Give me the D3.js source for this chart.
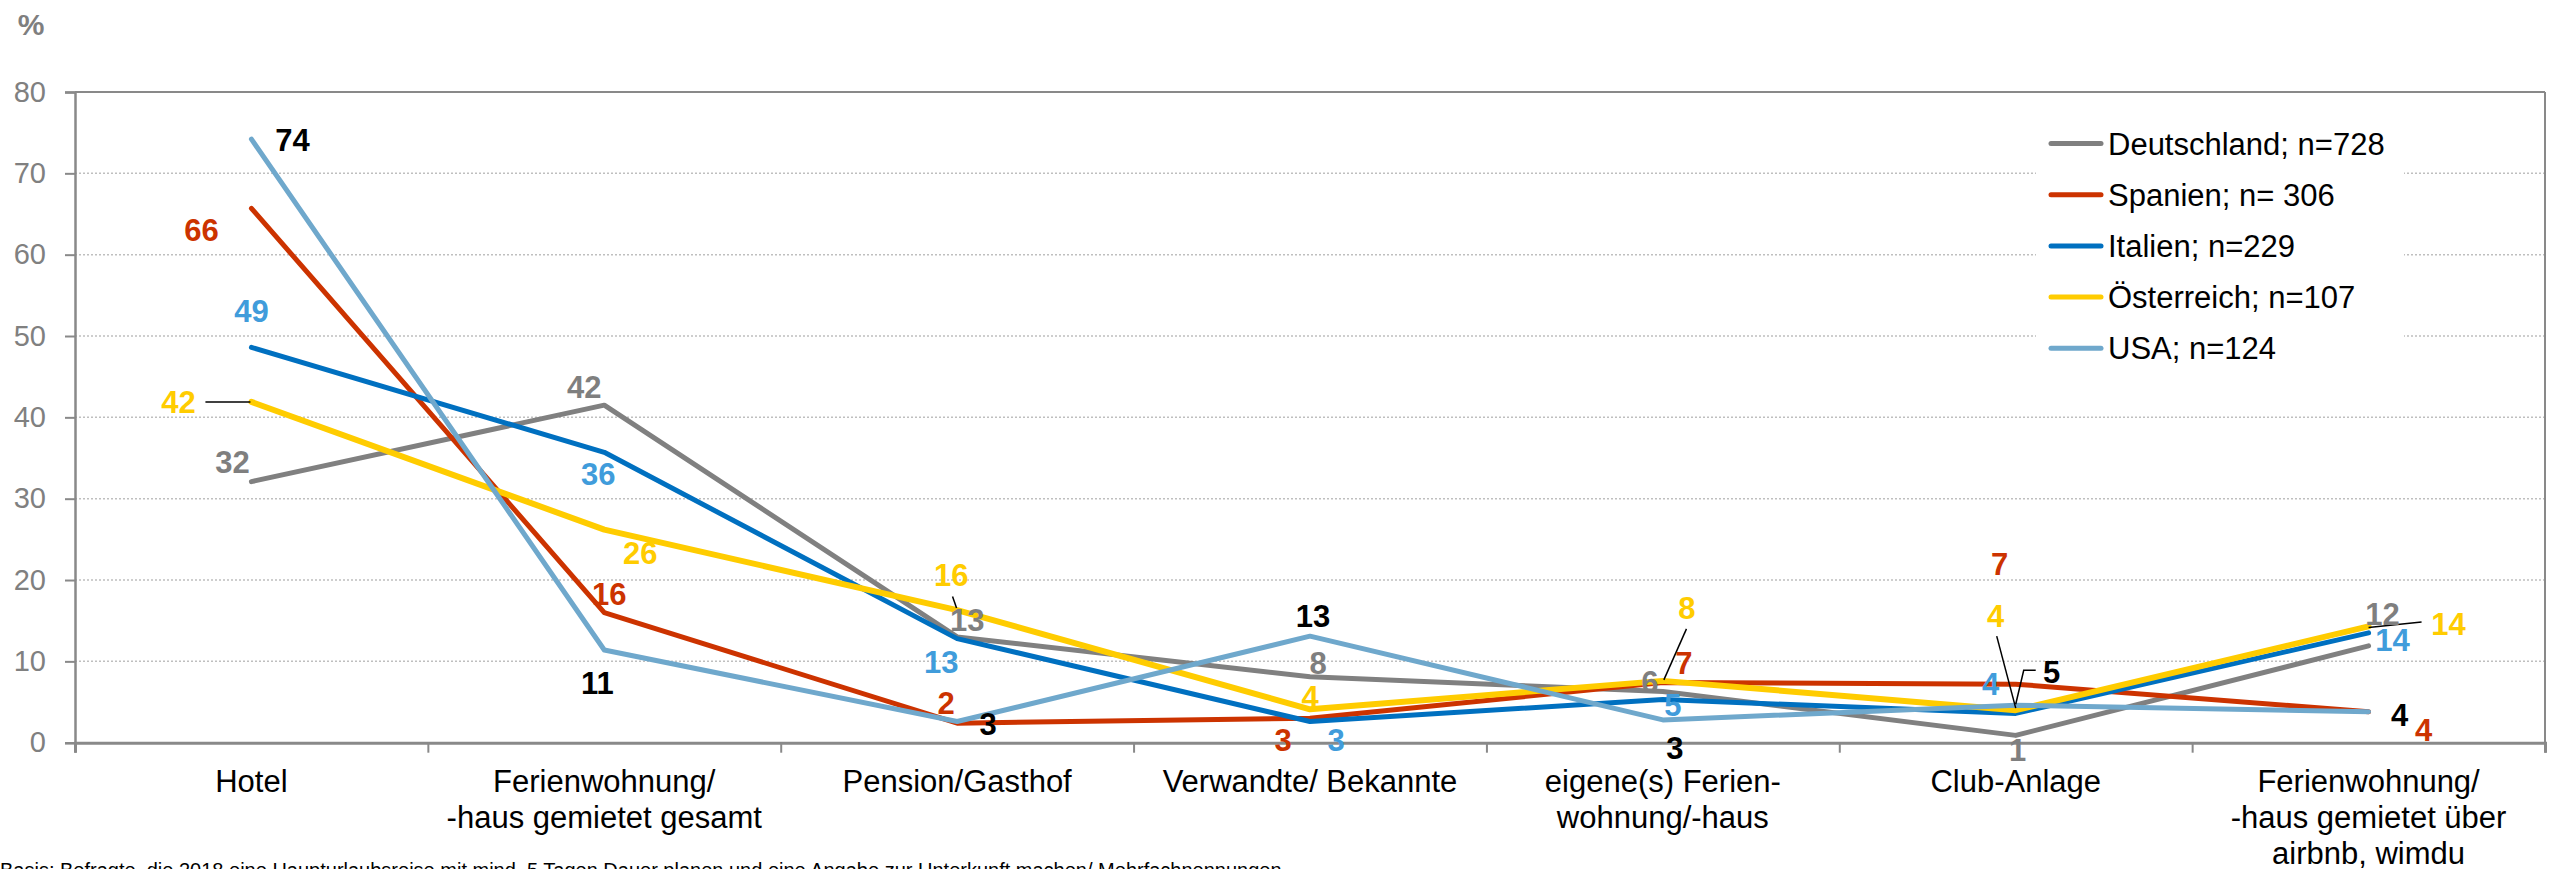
<!DOCTYPE html>
<html>
<head>
<meta charset="utf-8">
<script src="https://cdn.jsdelivr.net/npm/d3@7"></script>
<style>
  body { margin: 0; background: #fff; }
  svg { display: block; font-family: "Liberation Sans", Arial, sans-serif; }
</style>
</head>
<body>
<div id="chart"></div>
<script>
var width = 2558,
	height = 869;

// categories (multi-line labels)
var categories = ['Hotel', 'Ferienwohnung gesamt', 'Pension/Gasthof', 'Verwandte/ Bekannte',
	'eigene Ferienwohnung', 'Club-Anlage', 'Ferienwohnung airbnb'];
var categoryLines = [
	['Hotel'],
	['Ferienwohnung/', '-haus gemietet gesamt'],
	['Pension/Gasthof'],
	['Verwandte/ Bekannte'],
	['eigene(s) Ferien-', 'wohnung/-haus'],
	['Club-Anlage'],
	['Ferienwohnung/', '-haus gemietet über', 'airbnb, wimdu']
];

// series values in %
var deutschland = [32.1, 41.5, 13.0, 8.1, 6.3, 0.9, 11.9];
var spanien     = [65.7, 16.0, 2.4, 3.0, 7.4, 7.2, 3.8];
var italien     = [48.6, 35.7, 12.8, 2.6, 5.3, 3.6, 13.5];
var oesterreich = [41.9, 26.2, 16.3, 4.1, 7.6, 4.0, 14.3];
var usa         = [74.2, 11.4, 2.6, 13.1, 2.8, 4.6, 3.8];

var seriesNames = ['Deutschland; n=728', 'Spanien; n= 306', 'Italien; n=229', 'Österreich; n=107', 'USA; n=124'];
var yTicks = [0, 10, 20, 30, 40, 50, 60, 70, 80];

// styling
var lineColors  = ['#808080', '#cc3300', '#0070c0', '#ffcc00', '#6fa8cc'];
var labelColors = ['#7f7f7f', '#cc3300', '#409cdb', '#ffcc00', '#000000'];

// hand placed data label offsets (px, relative to point)
var labelOffsets = [
	[[-19, -20], [-20, -18], [10, -17], [8, -14], [-13, -10], [2, 14], [14, -32]],
	[[-50, 22], [5, -19], [-11, -20], [-27, 22], [21, -20], [-16, -120], [55, 18]],
	[[0, -37], [-6, 22], [-16, 23], [26, 18], [10, 5], [-25, -30], [24, 7]],
	[[-73, 0], [36, 23], [-6, -35], [0, -13], [24, -73], [-20, -94], [80, -3]],
	[[41, 1], [-7, 33], [31, 2], [3, -20], [12, 28], [36, -33], [31, 3]]
];
// leader lines: [series, category, points relative to the data point]
var leaders = [
	[3, 0, [[-46, 0], [-1, 0]]],
	[3, 2, [[-4.6, -13.5], [-0.6, -2]]],
	[3, 4, [[23.6, -52], [1, -1]]],
	[3, 5, [[-19, -74], [0, -2]]],
	[4, 5, [[20, -35], [8, -35], [0, -1]]],
	[3, 6, [[53, -4.5], [0, 1]]]
];

var allSeries = [deutschland, spanien, italien, oesterreich, usa];

var plotLeft = 75, plotRight = 2545, plotTop = 92, plotBottom = 742.7;

var x = d3.scaleBand().domain(categories).range([plotLeft, plotRight]).padding(0);
var xEdge = d3.scaleLinear().domain([0, categories.length]).range([plotLeft, plotRight]);
var y = d3.scaleLinear().domain([0, 80]).range([plotBottom, plotTop]);

function cx(i) { return x(categories[i]) + x.bandwidth() / 2; }

var svg = d3.select('#chart')
	.append('svg')
	.attr('width', width)
	.attr('height', height);

// grid lines (dotted)
svg.append('g')
	.selectAll('line')
	.data(yTicks.filter(function(t) { return t > 0 && t < 80; }))
	.join('line')
	.attr('x1', plotLeft).attr('x2', plotRight)
	.attr('y1', function(d) { return y(d); })
	.attr('y2', function(d) { return y(d); })
	.attr('stroke', '#bfbfbf')
	.attr('stroke-width', 1.5)
	.attr('stroke-dasharray', '2,2');

// legend background hides grid lines
svg.append('rect')
	.attr('x', 2036).attr('y', 105)
	.attr('width', 368).attr('height', 280)
	.attr('fill', '#fff');

// plot border top / right
svg.append('line')
	.attr('x1', plotLeft).attr('x2', plotRight)
	.attr('y1', y(80)).attr('y2', y(80))
	.attr('stroke', '#898989').attr('stroke-width', 2);
svg.append('line')
	.attr('x1', plotRight).attr('x2', plotRight)
	.attr('y1', y(80)).attr('y2', plotBottom)
	.attr('stroke', '#898989').attr('stroke-width', 2);

// y axis
var yAxis = svg.append('g')
	.attr('transform', 'translate(' + plotLeft + ',0)')
	.call(d3.axisLeft(y).tickValues(yTicks).tickSize(10).tickPadding(19).tickFormat(d3.format('d')));
yAxis.select('.domain').attr('stroke', '#898989').attr('stroke-width', 2.5);
yAxis.selectAll('.tick line').attr('stroke', '#898989').attr('stroke-width', 2);
yAxis.selectAll('.tick text')
	.attr('fill', '#808080')
	.style('font-size', '29px')
	.style('font-family', '"Liberation Sans", Arial, sans-serif');

// x axis (ticks at category boundaries)
var xAxis = svg.append('g')
	.attr('transform', 'translate(0,' + plotBottom + ')')
	.call(d3.axisBottom(xEdge).tickValues(d3.range(categories.length + 1)).tickSize(10).tickSizeOuter(10).tickFormat(''));
xAxis.select('.domain').attr('stroke', '#898989').attr('stroke-width', 3);
xAxis.selectAll('.tick line').attr('stroke', '#898989').attr('stroke-width', 2);

// category labels
svg.append('g')
	.selectAll('text')
	.data(categoryLines)
	.join('text')
	.attr('text-anchor', 'middle')
	.attr('font-size', 31)
	.attr('fill', '#000')
	.each(function(lines, i) {
		d3.select(this).selectAll('tspan')
			.data(lines)
			.join('tspan')
			.attr('x', cx(i))
			.attr('y', function(d, j) { return 792 + j * 36; })
			.text(function(d) { return d; });
	});

// lines
var line = d3.line()
	.x(function(d, i) { return cx(i); })
	.y(function(d) { return y(d); });

svg.append('g')
	.selectAll('path')
	.data(allSeries)
	.join('path')
	.attr('d', line)
	.attr('fill', 'none')
	.attr('stroke', function(d, i) { return lineColors[i]; })
	.attr('stroke-width', function(d, i) { return i === 3 ? 6 : 5; })
	.attr('stroke-linejoin', 'round')
	.attr('stroke-linecap', 'round');

// leader lines
svg.append('g')
	.selectAll('path')
	.data(leaders)
	.join('path')
	.attr('d', function(l) {
		var px = cx(l[1]), py = y(allSeries[l[0]][l[1]]);
		return 'M' + l[2].map(function(p) { return (px + p[0]) + ',' + (py + p[1]); }).join('L');
	})
	.attr('fill', 'none')
	.attr('stroke', '#000')
	.attr('stroke-width', 1.5);

// data labels
allSeries.forEach(function(vals, s) {
	svg.append('g')
		.selectAll('text')
		.data(vals)
		.join('text')
		.attr('x', function(d, i) { return cx(i) + labelOffsets[s][i][0]; })
		.attr('y', function(d, i) { return y(d) + labelOffsets[s][i][1]; })
		.attr('dy', '0.36em')
		.attr('text-anchor', 'middle')
		.attr('font-size', 31)
		.attr('font-weight', 'bold')
		.attr('fill', labelColors[s])
		.text(function(d) { return Math.round(d); });
});

// legend
var legend = svg.append('g')
	.selectAll('g')
	.data(seriesNames)
	.join('g')
	.attr('transform', function(d, i) { return 'translate(2049,' + (143.5 + i * 51.2) + ')'; });
legend.append('line')
	.attr('x1', 2).attr('x2', 52)
	.attr('stroke', function(d, i) { return lineColors[i]; })
	.attr('stroke-width', 5)
	.attr('stroke-linecap', 'round');
legend.append('text')
	.attr('x', 59)
	.attr('dy', '0.36em')
	.attr('font-size', 31)
	.attr('fill', '#000')
	.text(function(d) { return d; });

// unit
svg.append('text')
	.attr('x', 31).attr('y', 35)
	.attr('text-anchor', 'middle')
	.attr('font-size', 30)
	.attr('font-weight', 'bold')
	.attr('fill', '#7f7f7f')
	.text('%');

// footnote (cut off at the bottom)
svg.append('text')
	.attr('x', 0).attr('y', 877)
	.attr('font-size', 20)
	.attr('fill', '#000')
	.text('Basis: Befragte, die 2018 eine Haupturlaubsreise mit mind. 5 Tagen Dauer planen und eine Angabe zur Unterkunft machen/ Mehrfachnennungen');
</script>
</body>
</html>
